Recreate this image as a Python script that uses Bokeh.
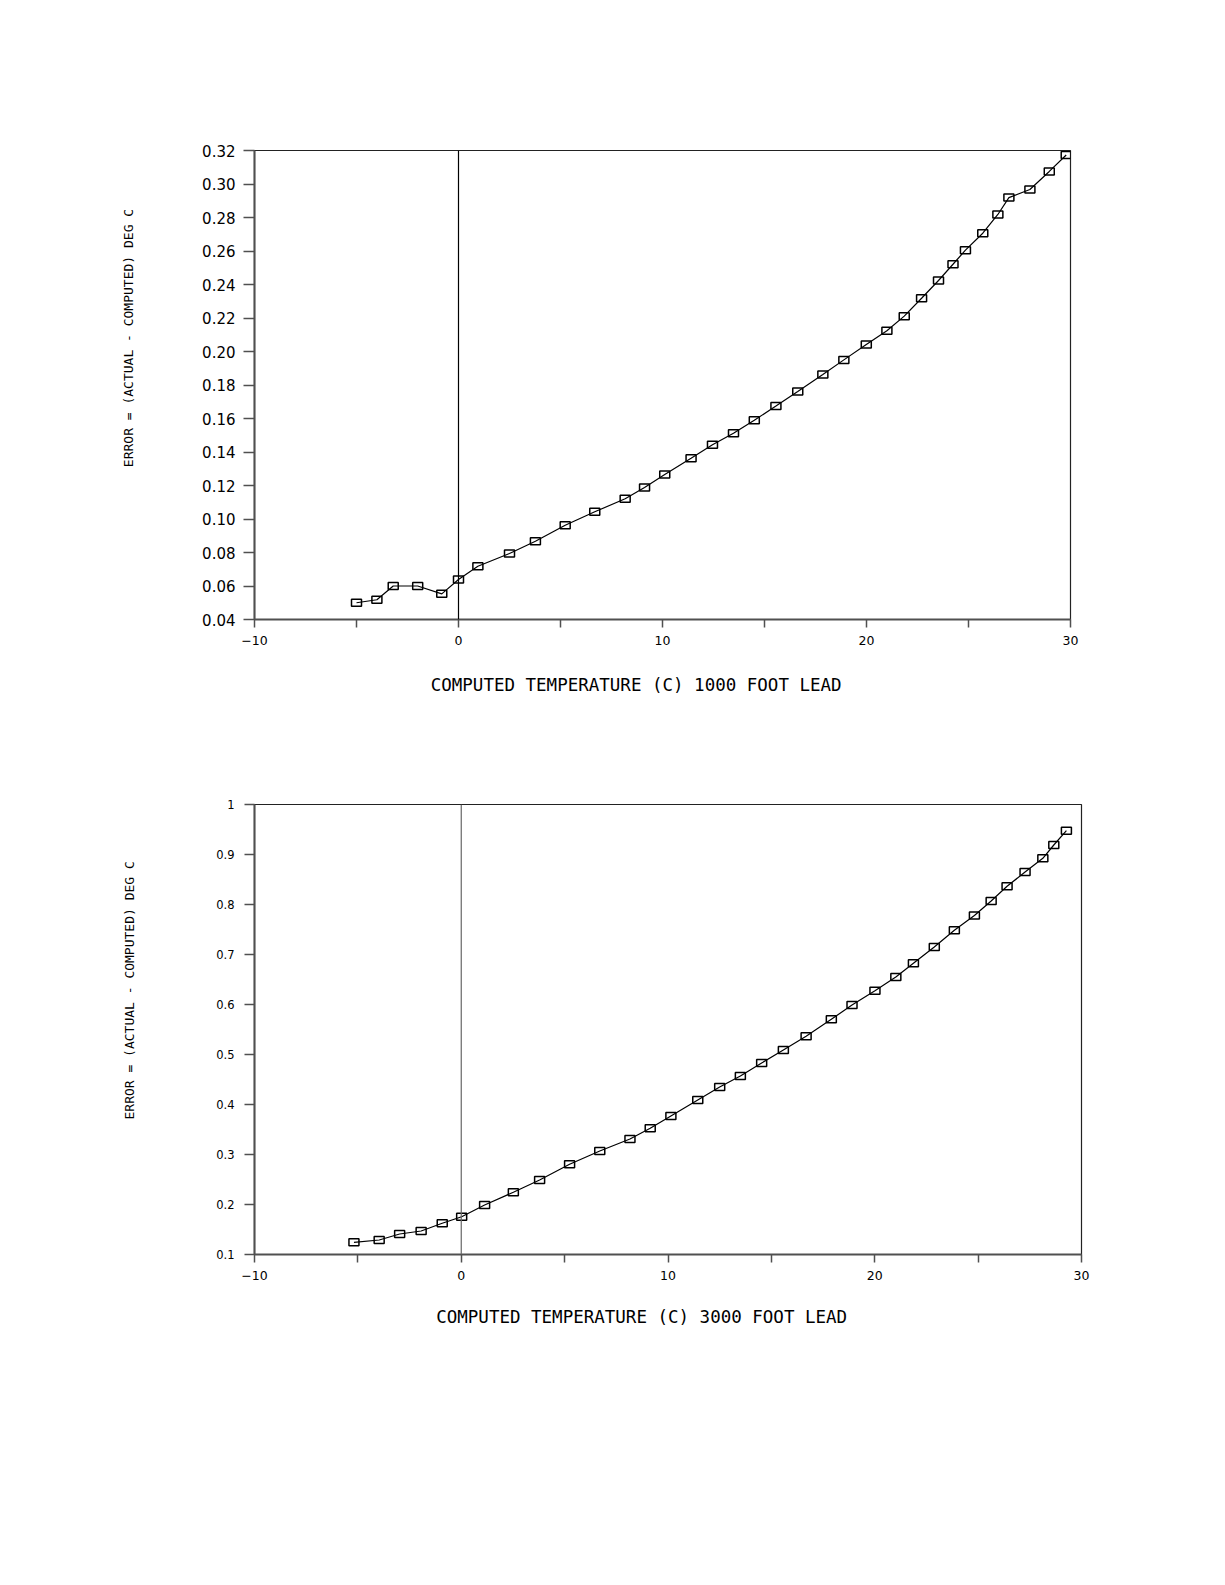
from bokeh.plotting import figure
from bokeh.layouts import column
from bokeh.models import FixedTicker, PrintfTickFormatter, CustomJSTickFormatter, Span
from bokeh.embed import file_html
from bokeh.resources import INLINE

# ---- data: 1000 foot lead ----
x1000 = [-5.0, -4.0, -3.2, -2.0, -0.82, 0.0, 0.95, 2.5, 3.77, 5.23, 6.68, 8.17, 9.12,
         10.11, 11.4, 12.45, 13.48, 14.5, 15.56, 16.63, 17.86, 18.89, 19.99, 21.0,
         21.85, 22.7, 23.53, 24.24, 24.85, 25.7, 26.44, 26.98, 28.01, 28.96, 29.79]
y1000 = [0.050, 0.0518, 0.060, 0.060, 0.0553, 0.0639, 0.0718, 0.0794, 0.0867, 0.0963,
         0.1043, 0.1121, 0.1188, 0.1265, 0.1363, 0.1443, 0.1512, 0.1590, 0.1674, 0.1761,
         0.1863, 0.1950, 0.2042, 0.2124, 0.2211, 0.2318, 0.2424, 0.2521, 0.2605, 0.2706,
         0.2818, 0.2919, 0.2967, 0.3075, 0.3173]

# ---- data: 3000 foot lead ----
x3000 = [-5.19, -3.97, -2.98, -1.94, -0.92, 0.02, 1.13, 2.52, 3.79, 5.24, 6.70, 8.16,
         9.14, 10.14, 11.44, 12.5, 13.5, 14.53, 15.58, 16.68, 17.9, 18.9, 20.01, 21.02,
         21.87, 22.88, 23.85, 24.82, 25.63, 26.4, 27.27, 28.13, 28.66, 29.27]
y3000 = [0.1244, 0.129, 0.141, 0.147, 0.1624, 0.1756, 0.199, 0.2244, 0.249, 0.2804,
         0.307, 0.331, 0.3524, 0.377, 0.409, 0.435, 0.457, 0.483, 0.509, 0.5364,
         0.5704, 0.599, 0.6276, 0.655, 0.6824, 0.715, 0.7484, 0.778, 0.807, 0.8364,
         0.865, 0.8924, 0.919, 0.9476]

x_major = [-10, 0, 10, 20, 30]
x_minor = [-5, 5, 15, 25]
y_ticks_top = [0.04, 0.06, 0.08, 0.10, 0.12, 0.14, 0.16, 0.18, 0.20, 0.22, 0.24, 0.26, 0.28, 0.30, 0.32]
y_ticks_bot = [0.1, 0.2, 0.3, 0.4, 0.5, 0.6, 0.7, 0.8, 0.9, 1.0]

y_title = "ERROR = (ACTUAL - COMPUTED) DEG C"
x_title_top = "COMPUTED TEMPERATURE (C) 1000 FOOT LEAD"
x_title_bot = "COMPUTED TEMPERATURE (C) 3000 FOOT LEAD"

AXIS_COLOR = "#505050"
MONO = "DejaVu Sans Mono"
SANS = "DejaVu Sans"
NB = "\u00a0"  # non-breaking spaces shift the titles off-centre as in the original


def make_plot(xs, ys, yrange, yticks, yfmt, fw, fh, left, top, bottom, right,
              ytick_len, ytick_standoff, ylabel_size, zero_color,
              xtitle, x_pad, x_standoff, y_pad, y_standoff):
    p = figure(frame_width=fw, frame_height=fh, x_range=(-10, 30), y_range=yrange,
               output_backend="svg", toolbar_location=None,
               min_border_left=left, min_border_top=top, min_border_bottom=bottom,
               min_border_right=right)
    p.grid.visible = False
    p.outline_line_color = "#222222"
    p.outline_line_width = 1.2
    p.background_fill_color = "white"
    p.border_fill_color = "white"

    xa = p.xaxis[0]
    xa.ticker = FixedTicker(ticks=x_major, minor_ticks=x_minor)
    xa.major_tick_out = 8
    xa.major_tick_in = 0
    xa.minor_tick_out = 8
    xa.minor_tick_in = 0
    xa.axis_line_color = AXIS_COLOR
    xa.axis_line_width = 2
    xa.major_tick_line_color = AXIS_COLOR
    xa.major_tick_line_width = 1.5
    xa.minor_tick_line_color = AXIS_COLOR
    xa.minor_tick_line_width = 1.5
    xa.major_label_standoff = 8
    xa.major_label_text_font = SANS
    xa.major_label_text_font_size = "12.5px"
    xa.major_label_text_color = "black"
    xa.axis_label = xtitle + NB * x_pad
    xa.axis_label_standoff = x_standoff
    xa.axis_label_text_font = MONO
    xa.axis_label_text_font_size = "17.5px"
    xa.axis_label_text_font_style = "normal"
    xa.axis_label_text_color = "black"

    ya = p.yaxis[0]
    ya.ticker = FixedTicker(ticks=yticks, minor_ticks=[])
    ya.formatter = yfmt
    ya.major_tick_out = ytick_len
    ya.major_tick_in = 0
    ya.axis_line_color = AXIS_COLOR
    ya.axis_line_width = 2
    ya.major_tick_line_color = AXIS_COLOR
    ya.major_tick_line_width = 1.5
    ya.major_label_standoff = ytick_standoff
    ya.major_label_text_font = SANS
    ya.major_label_text_font_size = ylabel_size
    ya.major_label_text_color = "black"
    ya.axis_label = NB * y_pad + y_title
    ya.axis_label_standoff = y_standoff
    ya.axis_label_text_font = MONO
    ya.axis_label_text_font_size = "13px"
    ya.axis_label_text_font_style = "normal"
    ya.axis_label_text_color = "black"

    p.add_layout(Span(location=0, dimension="height", line_color=zero_color, line_width=1.2))

    p.line(xs, ys, line_color="black", line_width=1.2)
    p.rect(xs, ys, width=10, height=7, width_units="screen", height_units="screen",
           fill_color=None, line_color="black", line_width=1.5)
    return p


p1 = make_plot(x1000, y1000, (0.04, 0.32), y_ticks_top, PrintfTickFormatter(format="%.2f"),
               fw=816, fh=469, left=252, top=150, bottom=121, right=40,
               ytick_len=11, ytick_standoff=8, ylabel_size="15px", zero_color="black",
               xtitle=x_title_top, x_pad=5, x_standoff=27, y_pad=12, y_standoff=63)

fmt_bot = CustomJSTickFormatter(code="return tick >= 0.999 ? '1' : tick.toFixed(1);")
p2 = make_plot(x3000, y3000, (0.1, 1.0), y_ticks_bot, fmt_bot,
               fw=827, fh=450, left=254, top=64, bottom=120, right=27,
               ytick_len=10, ytick_standoff=10, ylabel_size="11.5px", zero_color="#666666",
               xtitle=x_title_bot, x_pad=5, x_standoff=24, y_pad=10, y_standoff=76)

layout = column(p1, p2, spacing=0)

open("out.html", "w").write(file_html(layout, INLINE))
